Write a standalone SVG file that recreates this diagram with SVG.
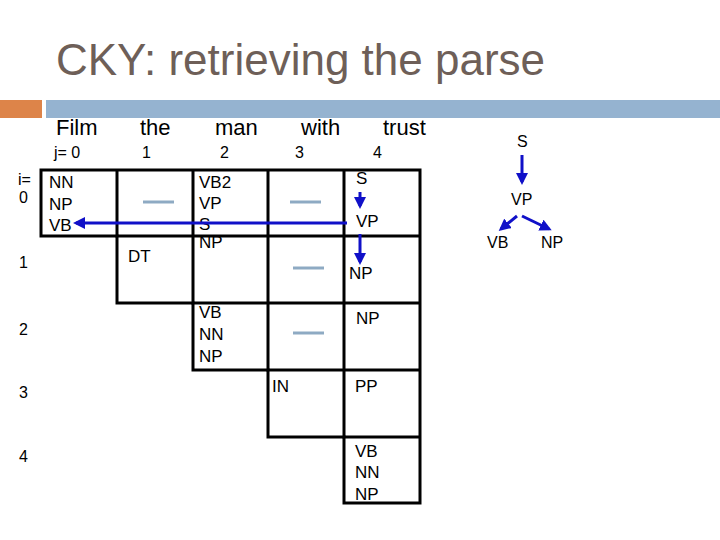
<svg xmlns="http://www.w3.org/2000/svg" width="720" height="540" viewBox="0 0 720 540">
<style>
text{font-family:"Liberation Sans",Arial,sans-serif;fill:#000}
.title{font-size:44px;fill:#6e5f58}
.hd{font-size:22px}
.idx{font-size:16px}
.c{font-size:17px}
.t{font-size:16px}
.cell{fill:none;stroke:#000;stroke-width:3}
.dash{stroke:#8eaac3;stroke-width:3}
.arr{stroke:#1010c8;stroke-width:3;fill:none;marker-end:url(#ah)}
</style>
<defs>
<marker id="ah" markerWidth="4" markerHeight="4" refX="3" refY="2" orient="auto" markerUnits="strokeWidth">
<path d="M0,0 L4,2 L0,4 z" fill="#1010c8"/>
</marker>
</defs>
<rect width="720" height="540" fill="#fff"/>
<text class="title" x="56" y="75" textLength="489">CKY: retrieving the parse</text>
<rect x="0" y="100" width="42" height="18" fill="#dd8449"/>
<rect x="46" y="100" width="674" height="18" fill="#95b3d0"/>
<g id="headers">
<text class="hd" x="56" y="135">Film</text>
<text class="hd" x="140" y="135">the</text>
<text class="hd" x="215" y="135">man</text>
<text class="hd" x="301" y="135">with</text>
<text class="hd" x="383" y="135">trust</text>
<text class="idx" x="54" y="158">j= 0</text>
<text class="idx" x="142" y="158">1</text>
<text class="idx" x="220" y="158">2</text>
<text class="idx" x="295" y="158">3</text>
<text class="idx" x="373" y="158">4</text>
<text class="idx" x="18" y="185">i=</text>
<text class="idx" x="19" y="203">0</text>
<text class="idx" x="19" y="268">1</text>
<text class="idx" x="19" y="335">2</text>
<text class="idx" x="19" y="398">3</text>
<text class="idx" x="19" y="462">4</text>
</g>
<g id="chart">
<path class="cell" d="M41,170 H420 V503 H344 V437 H268 V370 H193 V303 H117 V236 H41 Z"/>
<path class="cell" d="M117,170 V236 H420 M193,170 V303 H420 M268,170 V370 H420 M344,170 V437 H420"/>
</g>
<g id="cell-0-0"><text class="c" x="49" y="188">NN</text><text class="c" x="49" y="210">NP</text><text class="c" x="49" y="231">VB</text></g>
<g id="cell-0-1"><line class="dash" x1="143" y1="202" x2="174" y2="202"/></g>
<g id="cell-0-2"><text class="c" x="199" y="188">VB2</text><text class="c" x="199" y="209">VP</text><text class="c" x="199" y="230">S</text></g>
<g id="cell-0-3"><line class="dash" x1="290" y1="202" x2="321" y2="202"/></g>
<g id="cell-0-4"><text class="c" x="356" y="184">S</text><text class="c" x="356" y="227">VP</text></g>
<g id="cell-1-1"><text class="c" x="128" y="262">DT</text></g>
<g id="cell-1-2"><text class="c" x="199" y="248">NP</text></g>
<g id="cell-1-3"><line class="dash" x1="293" y1="268" x2="324" y2="268"/></g>
<g id="cell-1-4"><text class="c" x="349" y="279">NP</text></g>
<g id="cell-2-2"><text class="c" x="199" y="318">VB</text><text class="c" x="199" y="340">NN</text><text class="c" x="199" y="362">NP</text></g>
<g id="cell-2-3"><line class="dash" x1="293" y1="333" x2="324" y2="333"/></g>
<g id="cell-2-4"><text class="c" x="356" y="324">NP</text></g>
<g id="cell-3-3"><text class="c" x="272" y="392">IN</text></g>
<g id="cell-3-4"><text class="c" x="355" y="392">PP</text></g>
<g id="cell-4-4"><text class="c" x="355" y="457">VB</text><text class="c" x="355" y="478">NN</text><text class="c" x="355" y="500">NP</text></g>
<g id="tree-S"><text class="t" x="517" y="147">S</text></g>
<g id="tree-VP"><text class="t" x="511" y="205">VP</text></g>
<g id="tree-VB"><text class="t" x="487" y="248">VB</text></g>
<g id="tree-NP"><text class="t" x="541" y="248">NP</text></g>
<g id="connectors">
<line class="arr" x1="347" y1="223" x2="76" y2="223"/>
<line class="arr" x1="360" y1="192" x2="360" y2="206"/>
<line class="arr" x1="360" y1="234" x2="360" y2="262"/>
<line class="arr" x1="522" y1="155" x2="522" y2="182"/>
<line class="arr" x1="517" y1="216" x2="501" y2="229"/>
<line class="arr" x1="522" y1="216" x2="549" y2="229"/>
</g>
</svg>
